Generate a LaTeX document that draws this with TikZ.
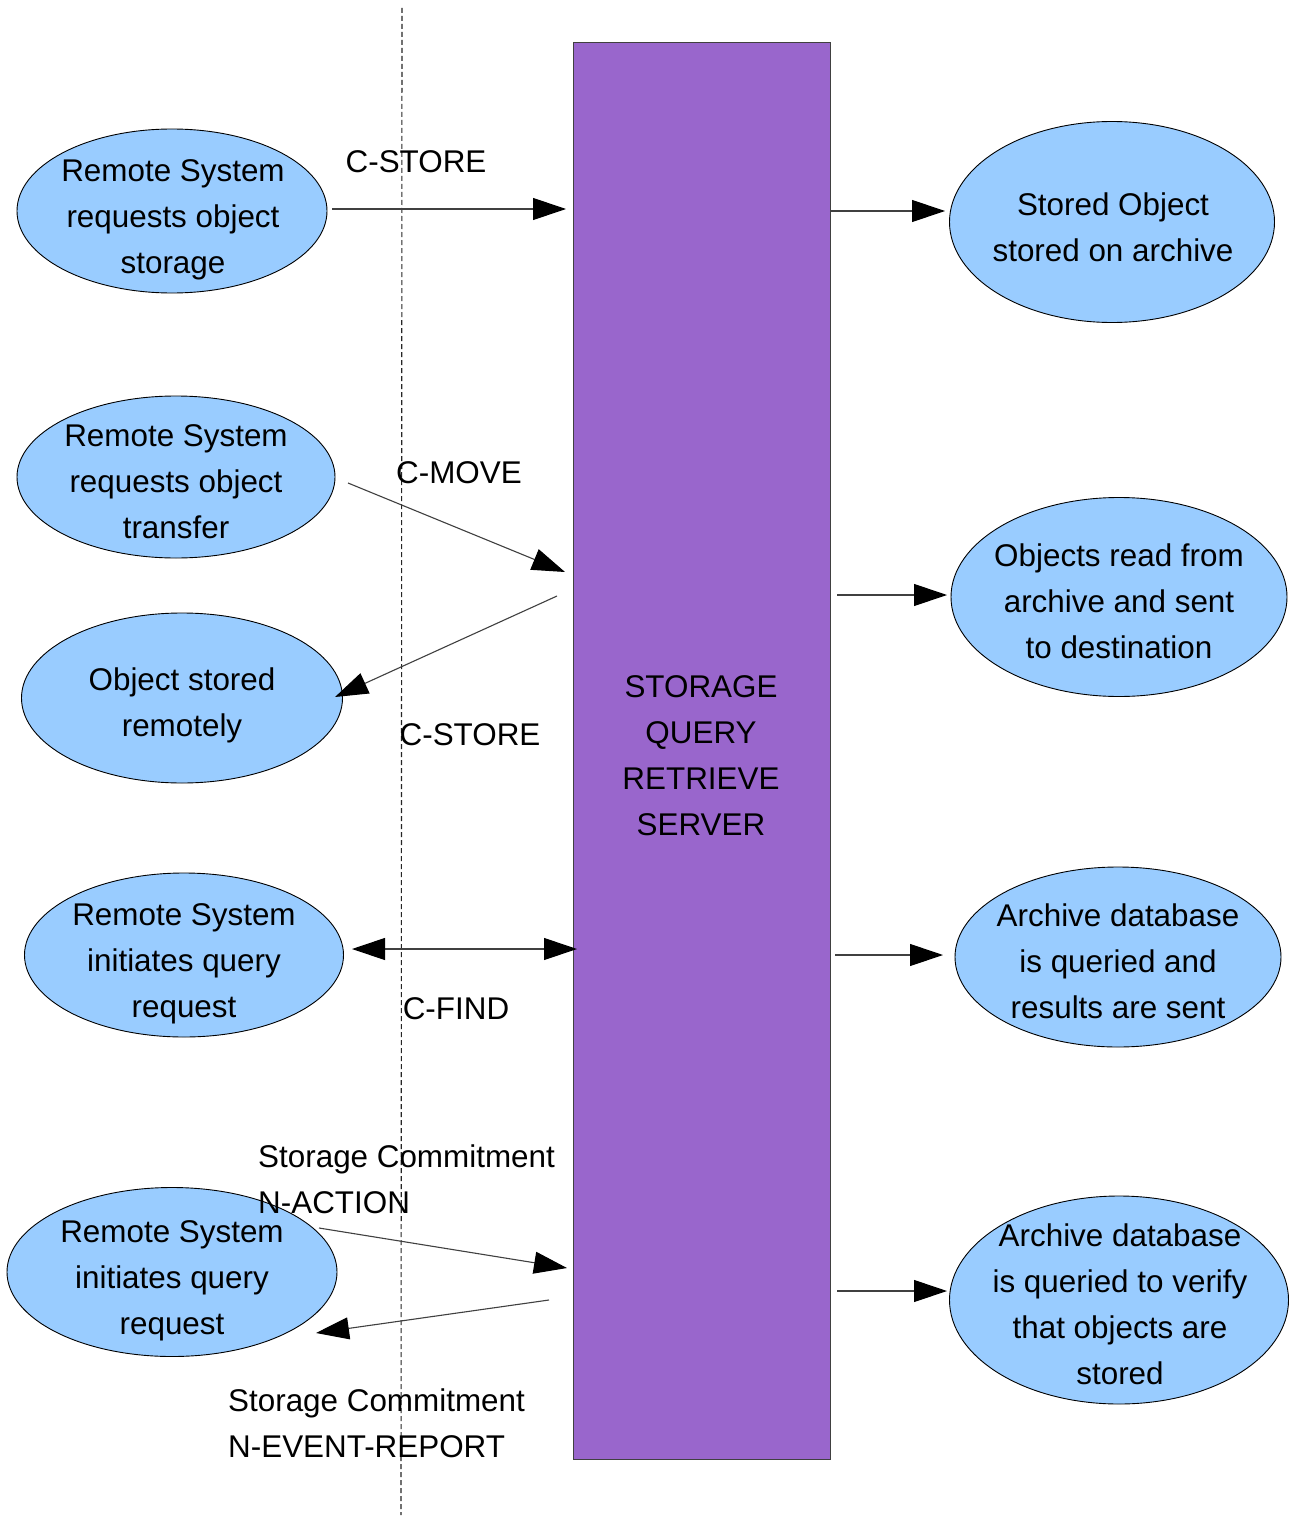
\documentclass[tikz,border=0pt]{standalone}
\usepackage{fontspec}
\setmainfont{Liberation Sans}
\usetikzlibrary{shapes.geometric,arrows.meta}
\definecolor{srv}{HTML}{9966CC}
\definecolor{ell}{HTML}{99CCFF}
\tikzset{
  txt/.style={font=\fontsize{31.4}{46}\selectfont, align=center, inner sep=0pt},
  bubble/.style={ellipse, draw=black, line width=0.9pt, fill=ell, inner sep=0pt},
  conn/.style={draw=black!75, line width=1.1pt, -{Triangle[length=33pt,width=22pt,color=black]}},
  dconn/.style={draw=black!75, line width=1.1pt, {Triangle[length=33pt,width=22pt,color=black]}-{Triangle[length=33pt,width=22pt,color=black]}},
}
\begin{document}
\begin{tikzpicture}[x=1pt,y=-1pt]
\useasboundingbox[fill=white] (0,0) rectangle (1289,1517);
% dashed divider
\coordinate (dtop) at (402,8);
\coordinate (dbot) at (401,1515);
\draw[black!85, line width=1.1pt, dash pattern=on 5pt off 3pt] (dtop) -- (dbot);
% server
\node[draw=black!75, line width=1.2pt, fill=srv, minimum width=257pt, minimum height=1417pt, inner sep=0pt, anchor=north west] (srv) at (573,42) {};
\node[txt] (srvtxt) at (701,756) {STORAGE\\QUERY\\RETRIEVE\\SERVER};
% left ellipses
\node[bubble, minimum width=310pt, minimum height=164pt] (l1) at (172,211) {};
\node[txt] (l1t) at (173,220) {Remote System\\requests object\\storage};
\node[bubble, minimum width=318pt, minimum height=162pt] (l2) at (176,477) {};
\node[txt] (l2t) at (176,482) {Remote System\\requests object\\transfer};
\node[bubble, minimum width=321pt, minimum height=170pt] (l3) at (182,698) {};
\node[txt] (l3t) at (182,705) {Object stored\\remotely};
\node[bubble, minimum width=319pt, minimum height=164pt] (l4) at (184,955) {};
\node[txt] (l4t) at (184,964) {Remote System\\initiates query\\request};
\node[bubble, minimum width=330pt, minimum height=169pt] (l5) at (172,1272) {};
\node[txt] (l5t) at (172,1281) {Remote System\\initiates query\\request};
% right ellipses
\node[bubble, minimum width=325pt, minimum height=201pt] (r1) at (1112,222) {};
\node[txt] (r1t) at (1113,227) {Stored Object\\stored on archive};
\node[bubble, minimum width=336pt, minimum height=199pt] (r2) at (1119,597) {};
\node[txt] (r2t) at (1119,601) {Objects read from\\archive and sent\\to destination};
\node[bubble, minimum width=326pt, minimum height=180pt] (r3) at (1118,957) {};
\node[txt] (r3t) at (1118,961) {Archive database\\is queried and\\results are sent};
\node[bubble, minimum width=339pt, minimum height=208pt] (r4) at (1119,1300) {};
\node[txt] (r4t) at (1120,1304) {Archive database\\is queried to verify\\that objects are\\stored};
% connector end points
\coordinate (a1s) at (332,209); \coordinate (a1e) at (566,209);
\coordinate (b1s) at (831,211); \coordinate (b1e) at (945,211);
\coordinate (a2s) at (348,483); \coordinate (a2e) at (565,572);
\coordinate (a3s) at (557,596); \coordinate (a3e) at (335,697);
\coordinate (b2s) at (837,595); \coordinate (b2e) at (947,595);
\coordinate (a4s) at (352,949); \coordinate (a4e) at (577,949);
\coordinate (b3s) at (835,955); \coordinate (b3e) at (943,955);
\coordinate (a5s) at (319,1228); \coordinate (a5e) at (567,1268);
\coordinate (a6s) at (549,1300); \coordinate (a6e) at (316,1333);
\coordinate (b4s) at (837,1291); \coordinate (b4e) at (947,1291);
% connectors
\draw[conn] (a1s) -- (a1e);
\draw[conn] (b1s) -- (b1e);
\draw[conn] (a2s) -- (a2e);
\draw[conn] (a3s) -- (a3e);
\draw[conn] (b2s) -- (b2e);
\draw[dconn] (a4s) -- (a4e);
\draw[conn] (b3s) -- (b3e);
\draw[conn] (a5s) -- (a5e);
\draw[conn] (a6s) -- (a6e);
\draw[conn] (b4s) -- (b4e);
% labels
\node[txt] (t1) at (416,162) {C-STORE};
\node[txt] (t2) at (459,473) {C-MOVE};
\node[txt] (t3) at (470,735) {C-STORE};
\node[txt] (t4) at (456,1009) {C-FIND};
\node[txt, align=left, anchor=north west] (t5) at (258,1145) {Storage Commitment\\N-ACTION};
\node[txt, align=left, anchor=north west] (t6) at (228,1389) {Storage Commitment\\N-EVENT-REPORT};
\end{tikzpicture}
\end{document}
